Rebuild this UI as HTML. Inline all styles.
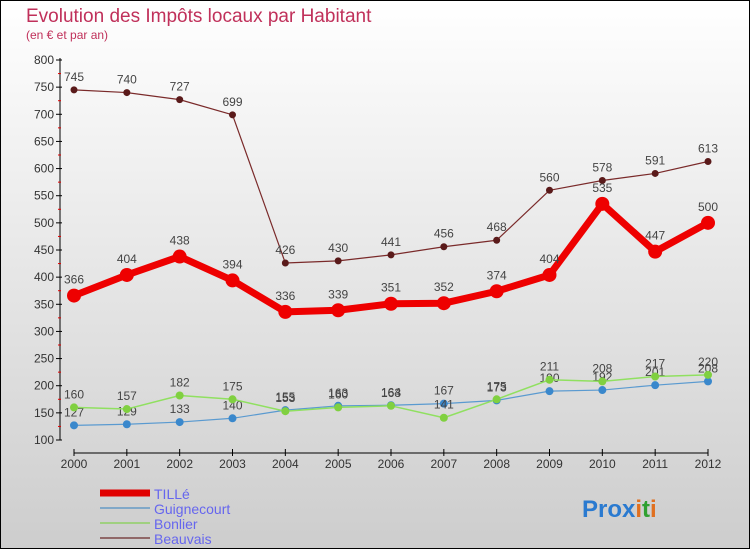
<!DOCTYPE html>
<html><head><meta charset="utf-8"><style>
body{margin:0;}
svg text{font-family:"Liberation Sans",sans-serif;}
</style></head><body>
<svg width="750" height="550" xmlns="http://www.w3.org/2000/svg">
<defs><linearGradient id="bg" x1="0" y1="0" x2="0" y2="1"><stop offset="0" stop-color="#ffffff"/><stop offset="1" stop-color="#cdcdcd"/></linearGradient></defs>
<rect x="0.5" y="0.5" width="749" height="548" fill="url(#bg)" stroke="#000"/>
<text x="26" y="22" font-size="19" fill="#c0305a">Evolution des Impôts locaux par Habitant</text>
<text x="26" y="39" font-size="12" fill="#c0305a">(en € et par an)</text>
<g id="axes"></g>
<g id="series"></g>
<g>
<line x1="100" y1="493" x2="150" y2="493" stroke="#e00000" stroke-width="7"/>
<text x="154" y="499" font-size="14" fill="#6666ee">TILLé</text>
<line x1="100" y1="508" x2="150" y2="508" stroke="#80a8c8" stroke-width="2"/>
<text x="154" y="514" font-size="14" fill="#6666ee">Guignecourt</text>
<line x1="100" y1="523" x2="150" y2="523" stroke="#a0d080" stroke-width="2"/>
<text x="154" y="529" font-size="14" fill="#6666ee">Bonlier</text>
<line x1="100" y1="538" x2="150" y2="538" stroke="#906868" stroke-width="2"/>
<text x="154" y="544" font-size="14" fill="#6666ee">Beauvais</text>
</g>
<text x="582" y="517" font-size="24" font-weight="bold"><tspan fill="#2a7ad0">Pro</tspan><tspan fill="#2a7ad0">x</tspan><tspan fill="#e07020">i</tspan><tspan fill="#30a030">t</tspan><tspan fill="#e07020">i</tspan></text>
</svg>
<script>
const years=["2000","2001","2002","2003","2004","2005","2006","2007","2008","2009","2010","2011","2012"];
const yTicks=[100,150,200,250,300,350,400,450,500,550,600,650,700,750,800];
const tille=[366,404,438,394,336,339,351,352,374,404,535,447,500];
const guignecourt=[127,129,133,140,155,163,164,167,173,190,192,201,208];
const bonlier=[160,157,182,175,153,160,163,141,175,211,208,217,220];
const beauvais=[745,740,727,699,426,430,441,456,468,560,578,591,613];
const NS="http://www.w3.org/2000/svg";
function xs(i){return 74+i*(708-74)/12;}
function ys(v){return 440-(v-100)*(380/700);}
function mk(t,a,p){const e=document.createElementNS(NS,t);for(const k in a)e.setAttribute(k,a[k]);p.appendChild(e);return e;}
const ax=document.getElementById('axes');
let l=mk('line',{x1:60,y1:58,x2:60,y2:440,stroke:'#000'},ax);


l=mk('line',{x1:74,y1:453,x2:708,y2:453,stroke:'#000'},ax);


yTicks.forEach(v=>{const y=ys(v);
mk('line',{x1:56,y1:y,x2:62,y2:y,stroke:'#000'},ax);
if(v<800)mk('line',{x1:58,y1:ys(v+25),x2:61,y2:ys(v+25),stroke:'#e00000'},ax);
const t=mk('text',{x:54,y:y+4,'font-size':12,fill:'#333','text-anchor':'end'},ax);t.textContent=v;

});
years.forEach((yr,i)=>{const x=xs(i);
mk('line',{x1:x,y1:449,x2:x,y2:456,stroke:'#000'},ax);
const t=mk('text',{x:x,y:468,'font-size':12,fill:'#333','text-anchor':'middle'},ax);t.textContent=yr;

});
const sg=document.getElementById('series');
function draw(name,data,color,w,r,dot,labelDy){
const g=mk('g',{},sg);


const pts=data.map((v,i)=>xs(i)+','+ys(v)).join(' ');
mk('polyline',{points:pts,fill:'none',stroke:color,'stroke-width':w,'stroke-linejoin':'round'},g);
data.forEach((v,i)=>{const c=mk('circle',{cx:xs(i),cy:ys(v),r:r,fill:dot},g);


const t=mk('text',{x:xs(i),y:ys(v)+labelDy,'font-size':12,fill:'#444','text-anchor':'middle'},g);t.textContent=v;

});
}
draw('beauvais',beauvais,'#7a2a2a',1.2,3.5,'#5a1a1a',-9);
draw('guignecourt',guignecourt,'#5a9ad0',1.2,4,'#3a88cc',-9);
draw('bonlier',bonlier,'#90e060',1.5,4,'#80d040',-9);
draw('tille',tille,'#ee0000',7,7,'#ee0000',-12);
</script>
</body></html>
